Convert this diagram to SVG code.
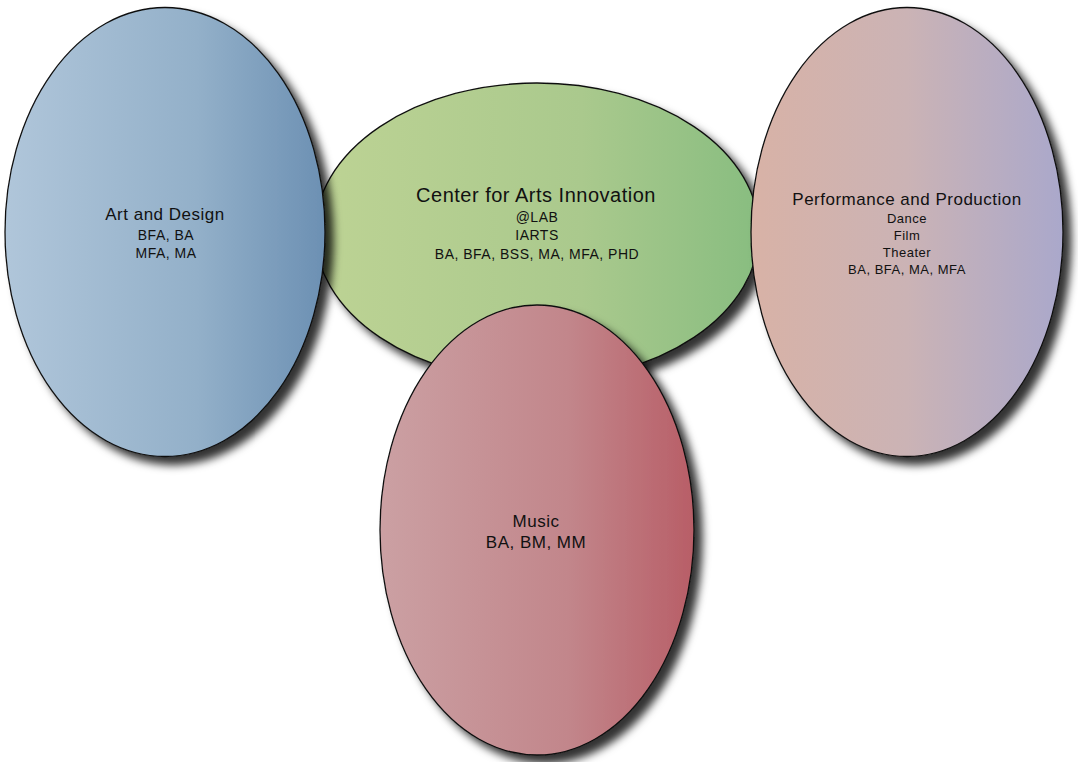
<svg xmlns="http://www.w3.org/2000/svg" width="1078" height="762" viewBox="0 0 1078 762">
<style>
.node ellipse{stroke:#111;stroke-width:1.3;filter:url(#sh)}
text{font-family:"Liberation Sans",Arial,sans-serif;fill:#111;text-anchor:middle;letter-spacing:0.5px}
.t{font-size:17px}
.s{font-size:14px}
</style>
<defs>
<filter id="sh" x="-20%" y="-20%" width="150%" height="150%">
<feGaussianBlur in="SourceAlpha" stdDeviation="4"/>
<feOffset dx="8" dy="8" result="b"/>
<feFlood flood-color="#000" flood-opacity="0.8"/>
<feComposite in2="b" operator="in"/>
<feMerge><feMergeNode/><feMergeNode in="SourceGraphic"/></feMerge>
</filter>
<linearGradient id="gBlue" x1="0" x2="1" y1="0" y2="0"><stop offset="0" stop-color="#b0c6da"/><stop offset="0.6" stop-color="#93b0c9"/><stop offset="1" stop-color="#6c90b3"/></linearGradient>
<linearGradient id="gGreen" x1="0" x2="1" y1="0" y2="0"><stop offset="0" stop-color="#bdd394"/><stop offset="0.6" stop-color="#aac98d"/><stop offset="1" stop-color="#88bd80"/></linearGradient>
<linearGradient id="gPerf" x1="0" x2="1" y1="0" y2="0"><stop offset="0" stop-color="#d8b2a6"/><stop offset="0.5" stop-color="#cbb3b5"/><stop offset="1" stop-color="#aaa8cb"/></linearGradient>
<linearGradient id="gRed" x1="0" x2="1" y1="0" y2="0"><stop offset="0" stop-color="#cba0a3"/><stop offset="0.6" stop-color="#c2868b"/><stop offset="1" stop-color="#b85e67"/></linearGradient>
</defs>
<g id="connectors"/>
<g id="center" class="node">
<ellipse cx="537" cy="232" rx="222" ry="149" fill="url(#gGreen)"/>
<text x="536" y="202" style="font-size:20px">Center for Arts Innovation</text>
<text class="s" x="537" y="222">@LAB</text>
<text class="s" x="537" y="240">IARTS</text>
<text class="s" x="537" y="259">BA, BFA, BSS, MA, MFA, PHD</text>
</g>
<g id="art" class="node">
<ellipse cx="165" cy="232" rx="160" ry="224.5" fill="url(#gBlue)"/>
<text class="t" x="165" y="220">Art and Design</text>
<text class="s" x="166" y="240">BFA, BA</text>
<text class="s" x="166" y="258">MFA, MA</text>
</g>
<g id="perf" class="node">
<ellipse cx="907" cy="232" rx="156" ry="224.5" fill="url(#gPerf)"/>
<text class="t" x="907" y="205">Performance and Production</text>
<text x="907" y="223" style="font-size:13px">Dance</text>
<text x="907" y="240" style="font-size:13px">Film</text>
<text x="907" y="257" style="font-size:13px">Theater</text>
<text x="907" y="274" style="font-size:13px">BA, BFA, MA, MFA</text>
</g>
<g id="music" class="node">
<ellipse cx="537" cy="530" rx="157" ry="225" fill="url(#gRed)"/>
<text class="t" x="536" y="527">Music</text>
<text class="t" x="536" y="548">BA, BM, MM</text>
</g>
</svg>
